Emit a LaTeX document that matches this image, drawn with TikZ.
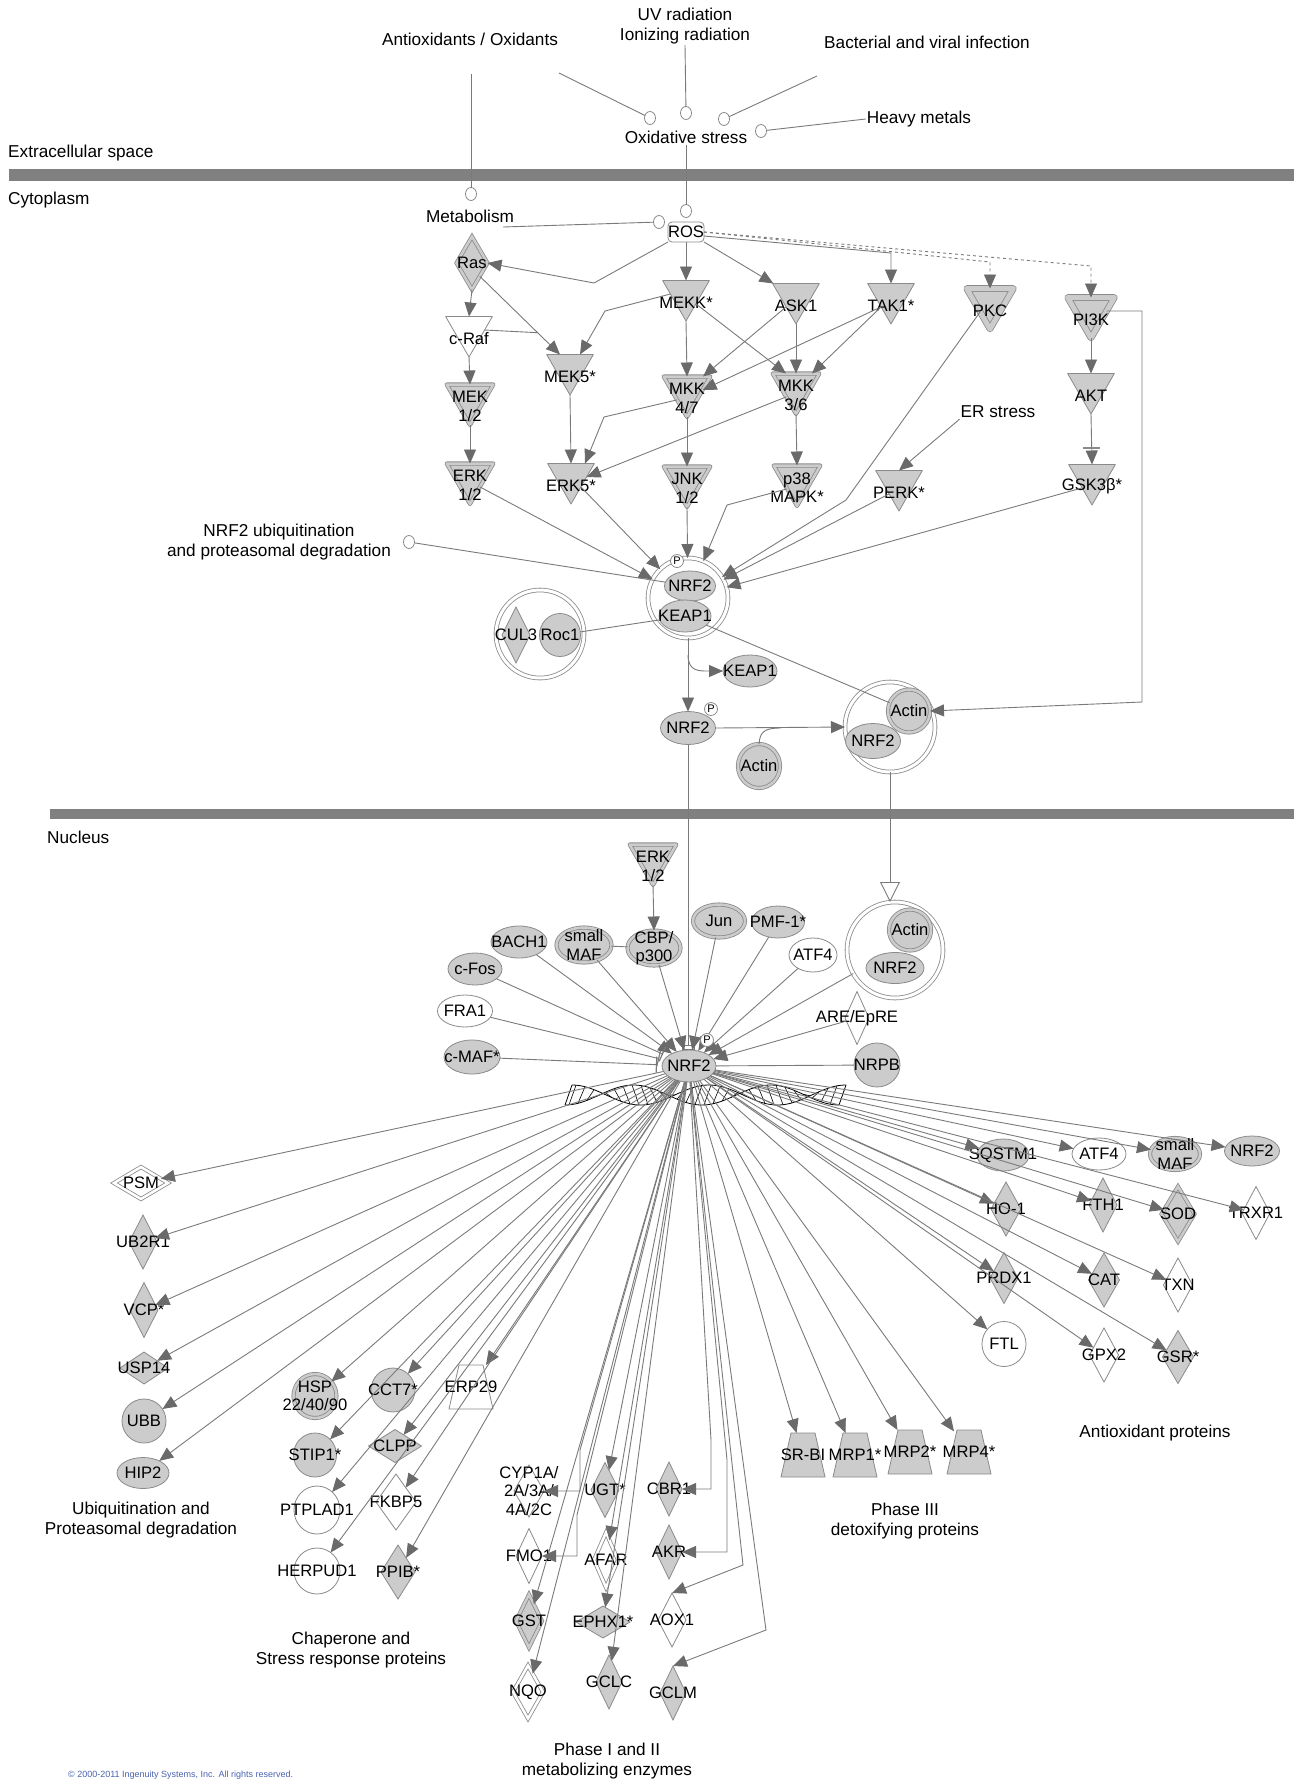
\documentclass[tikz,border=0pt]{standalone}
\usepackage{fontspec}
\setmainfont{Liberation Sans}
\usetikzlibrary{shapes.geometric,arrows.meta}
\definecolor{gfill}{HTML}{CCCCCC}
\definecolor{nline}{HTML}{8A8A8A}
\definecolor{eline}{HTML}{7A7A7A}
\definecolor{atip}{HTML}{6A6A6A}
\definecolor{band}{HTML}{808080}
\definecolor{copyc}{HTML}{4A62B0}
\newcommand\ndfont{\fontsize{16.6}{18.5}\selectfont}
\newcommand\lbfont{\fontsize{17.2}{20}\selectfont}
% trapezium: name, x, y, fill, label
\newcommand\trapz[5]{%
  \draw[fill=#4,draw=nline,line width=0.8pt,shift={(#2,#3)}] (-22,22) -- (22,22) -- (12,-22) -- (-12,-22) -- cycle;
  \node[inner sep=0pt,outer sep=0pt,minimum width=30pt,minimum height=44pt,label={[lab]center:{#5}}] (#1) at (#2,#3) {};}
\begin{document}
\begin{tikzpicture}[x=1pt,y=-1pt,
 nb/.style={inner sep=0pt,outer sep=0pt,line width=0.8pt,draw=nline},
 gf/.style={fill=gfill}, wf/.style={fill=white},
 ell/.style 2 args={nb,ellipse,minimum width=#1pt,minimum height=#2pt},
 dia/.style 2 args={nb,diamond,minimum width=#1pt,minimum height=#2pt},
 tri/.style={nb,regular polygon,regular polygon sides=3,shape border rotate=180,minimum size=54pt,line join=round},
 dbl/.style={double=#1,double distance=2.5pt},
 dblw/.style={double=#1,double distance=5pt},
 cplx/.style={nb,circle,fill=white,double=white,double distance=3pt,minimum size=#1pt},
 lab/.style={font=\ndfont,align=center,inner sep=0pt,text=black},
 lbl/.style={label={[lab]center:{#1}}},
 tlbl/.style={label={[lab,yshift=-8.5pt]center:{#1}}},
 txt/.style={font=\lbfont,align=center,inner sep=1pt},
 circ/.style={nb,ellipse,fill=white,minimum width=11pt,minimum height=13pt},
 pcirc/.style={nb,circle,fill=white,minimum size=13pt,font=\fontsize{11}{11}\selectfont},
 ln/.style={draw=eline,line width=0.9pt},
 arr/.style={ln,-{Triangle[length=14pt,width=12pt,color=atip]}},
 inh/.style={ln,-{Bar[width=16pt,line width=1.2pt]},shorten >=5pt},
 trl/.style={ln,-{Rectangle[length=5pt,width=13pt,fill=white]}},
 oarr/.style={ln,-{Triangle[length=20pt,width=20pt,fill=white]}},
 dsh/.style={arr,dashed},
 helix/.style={draw=black,line width=0.8pt},
]
\useasboundingbox (0,0) rectangle (1294,1781);
% bands
\fill[band] (9,169) rectangle (1294,181);
\fill[band] (50,809) rectangle (1294,819);

% ---------- labels ----------
\node[txt] (antiox) at (470,39) {Antioxidants / Oxidants};
\node[txt] (uv) at (685,26) {UV radiation\\Ionizing radiation};
\node[txt] (bact) at (927,42) {Bacterial and viral infection};
\node[txt] (heavy) at (919,119) {Heavy metals};
\node[txt] (oxs) at (686,137) {Oxidative stress};
\node[txt,anchor=west] (extra) at (7,153) {Extracellular space};
\node[txt,anchor=west] (cyto) at (7,200) {Cytoplasm};
\node[txt] (metab) at (470,216) {Metabolism};
\node[txt] (ers) at (998,412) {ER stress};
\node[txt] (ubqlab) at (279,542) {NRF2 ubiquitination\\and proteasomal degradation};
\node[txt,anchor=west] (nucl) at (46,837) {Nucleus};
\node[txt] (lubq) at (141,1520) {Ubiquitination and\\Proteasomal degradation};
\node[txt] (lchap) at (351,1650) {Chaperone and\\Stress response proteins};
\node[txt] (lphase) at (607,1761) {Phase I and II\\metabolizing enzymes};
\node[txt] (lphase3) at (905,1521) {Phase III\\detoxifying proteins};
\node[txt] (lanti) at (1155,1433) {Antioxidant proteins};
\node[anchor=north west,inner sep=0pt,text=copyc,font=\fontsize{9}{10}\selectfont] (copy) at (68,1771) {© 2000-2011 Ingenuity Systems, Inc. All rights reserved.};

% small circles
\node[circ] (c1) at (650,118) {};
\node[circ] (c2) at (686,113) {};
\node[circ] (c3) at (724,119) {};
\node[circ] (c4) at (761,131) {};
\node[circ] (c5) at (471,194) {};
\node[circ] (c6) at (686,211) {};
\node[circ] (c7) at (659,222) {};
\node[circ] (c8) at (409,542) {};
\coordinate (s1) at (471,74);
\coordinate (s2) at (559,73);
\coordinate (s3) at (817,76);
\coordinate (s4) at (503,227);

% ---------- cytoplasm nodes ----------
\node[nb,rounded corners=4pt,fill=white,minimum width=36pt,minimum height=20pt,font=\ndfont] (ros) at (686,232) {ROS};
\node[dia={31}{53},gf,dbl=gfill,lbl=Ras] (ras) at (472,263) {};
\node[tri,gf,tlbl={MEKK*}] (mekk) at (686,294) {};
\node[tri,gf,tlbl={ASK1}] (ask1) at (796,297) {};
\node[tri,gf,tlbl={TAK1*}] (tak1) at (891,297) {};
\node[tri,gf,dblw=gfill,tlbl={PKC}] (pkc) at (990,302) {};
\node[tri,gf,dblw=gfill,tlbl={PI3K}] (pi3k) at (1091,311) {};
\node[tri,wf,tlbl={c-Raf}] (craf) at (469,330) {};
\node[tri,gf,tlbl={MEK5*}] (mek5) at (570,368) {};
\node[tri,gf,dbl=gfill,tlbl={MKK\\4/7}] (mkk47) at (687,390) {};
\node[tri,gf,dbl=gfill,tlbl={MKK\\3/6}] (mkk36) at (796,387) {};
\node[tri,gf,tlbl={AKT}] (akt) at (1091,387) {};
\node[tri,gf,dbl=gfill,tlbl={MEK\\1/2}] (mek12) at (470,398) {};
\node[tri,gf,dbl=gfill,tlbl={ERK\\1/2}] (erk12) at (470,477) {};
\node[tri,gf,tlbl={ERK5*}] (erk5) at (571,477) {};
\node[tri,gf,dbl=gfill,tlbl={JNK\\1/2}] (jnk) at (687,480) {};
\node[tri,gf,dbl=gfill,tlbl={p38\\MAPK*}] (p38) at (797,479) {};
\node[tri,gf,tlbl={PERK*}] (perk) at (899,484) {};
\node[tri,gf,tlbl={GSK3β*}] (gsk) at (1092,478) {};

\node[cplx=80] (cplx1) at (688,598) {};
\node[ell={51}{30},gf,lbl=NRF2] (nrf2a) at (690,586) {};
\node[ell={52}{32},gf,lbl=KEAP1] (keap1a) at (685,616) {};
\node[cplx=88] (cplcul) at (540,634) {};
\node[dia={28}{56},gf,lbl=CUL3] (cul3) at (516,635) {};
\node[ell={41}{43},gf,lbl=Roc1] (roc1) at (560,635) {};
\node[ell={54}{32},gf,lbl=KEAP1] (keap2) at (750,671) {};
\node[ell={55}{33},gf,lbl=NRF2] (nrf2b) at (688,728) {};
\node[ell={42}{44},gf,dbl=gfill,lbl=Actin] (actin2) at (759,766) {};
\node[cplx=90] (cplx2) at (890,727) {};
\node[ell={55}{35},gf,lbl=NRF2] (nrf2c2) at (873,741) {};
\node[ell={42}{43},gf,dbl=gfill,lbl=Actin] (actinC1) at (909,711) {};
\coordinate (j1) at (781,728);
\coordinate (j2) at (688,655);
\coordinate (j3) at (538,332.7);

% ---------- nucleus nodes ----------
\node[tri,gf,dbl=gfill,tlbl={ERK\\1/2}] (erkn) at (653,858) {};
\node[ell={53}{35},gf,dbl=gfill,lbl={CBP/\\p300}] (cbp) at (654,948) {};
\node[ell={55}{35},gf,dbl=gfill,lbl={small\\MAF}] (smafn) at (584,945) {};
\node[ell={56}{32},gf,lbl=BACH1] (bach1) at (519,942) {};
\node[ell={54}{32},gf,lbl=c-Fos] (cfos) at (475,969) {};
\node[ell={55}{32},wf,lbl=FRA1] (fra1) at (465,1011) {};
\node[ell={56}{34},gf,lbl=c-MAF*] (cmaf) at (472,1057) {};
\node[ell={52}{33},gf,dbl=gfill,lbl=Jun] (jun) at (719,921) {};
\node[ell={53}{32},gf,lbl=PMF-1*] (pmf) at (778,922) {};
\node[ell={48}{34},wf,lbl=ATF4] (atf4n) at (813,955) {};
\node[cplx=96] (cplx3) at (895,950) {};
\node[ell={58}{31},gf,lbl=NRF2] (nrf2c3) at (895,968) {};
\node[ell={42}{41},gf,dbl=gfill,lbl=Actin] (actin3) at (910,930) {};
\node[dia={24}{53},wf,lbl={ARE/EpRE}] (are) at (857,1018) {};
\node[ell={46}{44},gf,lbl=NRPB] (nrpb) at (877,1065) {};
\node[ell={54}{32},gf,lbl=NRF2] (hub) at (689,1066) {};

% ---------- targets ----------
\node[dia={54}{32},wf,dbl=white,lbl=PSM] (psm) at (141,1183) {};
\node[dia={28}{54},gf,lbl=UB2R1] (ub2r1) at (143,1242) {};
\node[dia={28}{55},gf,lbl=VCP*] (vcp) at (144,1310) {};
\node[dia={48}{32},gf,lbl=USP14] (usp14) at (144,1368) {};
\node[ell={44}{44},gf,lbl=UBB] (ubb) at (144,1421) {};
\node[ell={52}{31},gf,lbl=HIP2] (hip2) at (143,1473) {};

\node[ell={43}{44},gf,dbl=gfill,lbl={HSP\\22/40/90}] (hsp) at (315,1396) {};
\node[ell={44}{44},gf,lbl=CCT7*] (cct7) at (393,1390) {};
\trapz{erp29}{471}{1387}{white}{ERP29}
\node[ell={43}{44},gf,lbl=STIP1*] (stip1) at (315,1455) {};
\node[dia={53}{33},gf,lbl=CLPP] (clpp) at (395,1446) {};
\node[ell={46}{48},wf,lbl=PTPLAD1] (ptplad1) at (317,1510) {};
\node[dia={40}{56},wf,lbl=FKBP5] (fkbp5) at (396,1502) {};
\node[ell={46}{46},wf,lbl=HERPUD1] (herpud1) at (317,1571) {};
\node[dia={34}{54},gf,lbl=PPIB*] (ppib) at (398,1572) {};

\node[dia={30}{52},wf,lbl={CYP1A/\\2A/3A/\\4A/2C}] (cyp) at (529,1491) {};
\node[dia={26}{55},wf,lbl=FMO1] (fmo1) at (529,1556) {};
\node[dia={26}{53},gf,dbl=gfill,lbl=GST] (gst) at (529,1621) {};
\node[dia={30}{53},wf,dbl=white,lbl=NQO] (nqo) at (528,1692) {};
\node[dia={28}{55},gf,lbl=UGT*] (ugt) at (605,1490) {};
\node[dia={24}{55},wf,dbl=white,lbl=AFAR] (afar) at (606,1560) {};
\node[dia={54}{32},gf,lbl=EPHX1*] (ephx1) at (603,1622) {};
\node[dia={26}{54},gf,lbl=GCLC] (gclc) at (609,1682) {};
\node[dia={26}{54},gf,lbl=CBR1] (cbr1) at (669,1489) {};
\node[dia={26}{54},gf,lbl=AKR] (akr) at (669,1552) {};
\node[dia={28}{54},wf,lbl=AOX1] (aox1) at (672,1620) {};
\node[dia={26}{54},gf,lbl=GCLM] (gclm) at (673,1693) {};

\trapz{srbi}{803}{1455}{gfill}{SR-BI}
\trapz{mrp1}{855}{1455}{gfill}{MRP1*}
\trapz{mrp2}{910}{1452}{gfill}{MRP2*}
\trapz{mrp4}{969}{1452}{gfill}{MRP4*}

\node[ell={52}{32},gf,lbl=SQSTM1] (sqstm1) at (1003,1155) {};
\node[ell={54}{32},wf,lbl=ATF4] (atf4r) at (1099,1154) {};
\node[ell={50}{32},gf,dbl=gfill,lbl={small\\MAF}] (smafr) at (1175,1154) {};
\node[ell={55}{30},gf,lbl=NRF2] (nrf2r) at (1252,1151) {};
\node[dia={30}{54},gf,lbl=HO-1] (ho1) at (1006,1209) {};
\node[dia={28}{54},gf,lbl=FTH1] (fth1) at (1103,1205) {};
\node[dia={33}{55},gf,dbl=gfill,lbl=SOD] (sod) at (1178,1214) {};
\node[dia={28}{53},wf,lbl=TRXR1] (trxr1) at (1256,1213) {};
\node[dia={28}{51},gf,lbl=PRDX1] (prdx1) at (1004,1278) {};
\node[dia={31}{54},gf,lbl=CAT] (cat) at (1104,1280) {};
\node[dia={29}{54},wf,lbl=TXN] (txn) at (1178,1285) {};
\node[ell={44}{45},wf,lbl=FTL] (ftl) at (1004,1344) {};
\node[dia={29}{54},wf,lbl=GPX2] (gpx2) at (1104,1355) {};
\node[dia={31}{53},gf,lbl=GSR*] (gsr) at (1178,1357) {};

% ---------- helix ----------
\draw[helix] plot[domain=565:839,samples=120,smooth] (\x,{1095+10*cos(2.6277*(\x-565))});
\draw[helix] plot[domain=572:846,samples=120,smooth] (\x,{1095-10*cos(2.6277*(\x-572))});
\foreach \xx in {569,578,...,835} \draw[helix,line width=0.6pt] (\xx,{1095+10*cos(2.6277*(\xx-565))}) -- ({\xx+7},{1095-10*cos(2.6277*(\xx-565))});
\draw[helix] (565,1105) -- (572,1085);
\draw[helix] (839,1105) -- (846,1085);

% ---------- top edges ----------
\draw[ln] (s1) -- (c5);
\draw[ln] (s2) -- (c1);
\draw[ln] (uv.south) -- (c2);
\draw[ln] (s3) -- (c3);
\draw[ln] (heavy.west) -- (c4);
\draw[ln] (oxs.south) -- (c6);
\draw[ln] (s4) -- (c7);

\draw[arr] (ros.south west) -- (594,283) -- (ras.east);
\draw[arr] (ros.south) -- (mekk.north);
\draw[arr] (ros.south east) -- (ask1);
\draw[arr] ([yshift=-4pt]ros.east) -- (891,253) -- (tak1.north);
\draw[dsh] (ros.east) -- (990,262) -- (pkc.north);
\draw[dsh] (ros.east) -- (1091,266) -- (pi3k.north);
\draw[arr] (ras.south) -- (craf.north);
\draw[arr] (ras.south east) -- ([xshift=-10pt]mek5.north);
\draw[ln] (craf.east) -- (j3);
\draw[arr] (mekk.west) -- (605,311) -- ([xshift=10pt]mek5.north);
\draw[arr] (mekk.south) -- (mkk47.north);
\draw[arr] (mekk.south east) -- ([xshift=-10pt]mkk36.north);
\draw[arr] (ask1.south west) -- ([xshift=16pt]mkk47.north);
\draw[arr] (ask1.south) -- (mkk36.north);
\draw[arr] (tak1.south west) -- (mkk47.east);
\draw[arr] (tak1.south west) -- ([xshift=16pt]mkk36.north);
\draw[arr] (craf.south) -- (mek12.north);
\draw[arr] (mek12.south) -- (erk12.north);
\draw[arr] (mek5.south) -- (erk5.north);
\draw[arr] (mkk47.south) -- (jnk.north);
\draw[arr] (mkk36.south) -- (p38.north);
\draw[arr] (mkk47.south west) -- (604,417) -- ([xshift=14pt]erk5.north);
\draw[arr] (mkk36.south west) -- (erk5.east);
\draw[arr] (pi3k.south) -- (akt.north);
\draw[arr] (akt.south) -- node[pos=0.67,nb,fill=nline,minimum width=16pt,minimum height=1.5pt] (akbar) {} (gsk.north);
\draw[arr] (ers.south west) -- (perk.north);

\draw[arr] (erk12.south east) -- (cplx1);
\draw[arr] (erk5.south east) -- (cplx1);
\draw[arr] (jnk.south) -- (cplx1);
\draw[arr] (p38.south west) -- (727,505) -- (cplx1);
\draw[arr] (pkc.south west) -- (846,500) -- (cplx1);
\draw[arr] (perk.south west) -- (cplx1);
\draw[arr] (gsk.south west) -- (cplx1);
\draw[ln] (c8) -- (nrf2a);
\draw[ln] (roc1) -- (keap1a);
\draw[ln] (keap1a) -- (actinC1);
\draw[arr] (cplx1.south) -- (nrf2b.north);
\draw[arr] (j2) .. controls (688,672) and (700,671) .. (keap2.west);
\draw[arr] (nrf2b.east) -- (cplx2.west);
\draw[ln] (actin2.north) .. controls (760,732) and (764,728) .. (j1);
\draw[arr] (pi3k.east) -| (1142,702) -- (actinC1.east);
\draw[oarr] (cplx2.south) -- (cplx2.south |- cplx3.north);
\draw[trl] (nrf2b.south) -- (nrf2b.south |- hub.north);

% ---------- nucleus edges ----------
\draw[arr] (erkn.south) -- (cbp.north);
\draw[ln] (smafn) -- (cbp);
\draw[arr] (bach1) -- (hub);
\draw[arr] (smafn) -- (hub);
\draw[arr] (cbp) -- (hub);
\draw[arr] (jun) -- (hub);
\draw[arr] (pmf) -- (hub);
\draw[arr] (atf4n) -- (hub);
\draw[arr] (cplx3) -- (hub);
\draw[arr] (are) -- (hub);
\draw[inh] (cfos) -- (hub);
\draw[inh] (fra1) -- (hub);
\draw[inh] (cmaf) -- (hub);
\draw[ln] (hub) -- (nrpb);

% fan
\foreach \t in {psm,ub2r1,vcp,usp14,ubb,hip2,hsp,cct7,erp29,stip1,clpp,ptplad1,fkbp5,herpud1,ppib,gst,nqo,ugt,afar,ephx1,gclc,srbi,mrp1,mrp2,mrp4,sqstm1,atf4r,smafr,nrf2r,ho1,fth1,sod,trxr1,prdx1,cat,txn,ftl,gpx2,gsr}
  \draw[arr] (hub) -- (\t);
\draw[arr] (hub) -- (580,1450) -- (580,1491) -- (cyp.east);
\draw[arr] (hub) -- (577,1515) -- (577,1556) -- (fmo1.east);
\draw[arr] (hub) -- (711,1440) -- (711,1489) -- (cbr1.east);
\draw[arr] (hub) -- (727,1460) -- (727,1552) -- (akr.east);
\draw[arr] (hub) -- (743,1565) -- (aox1.north);
\draw[arr] (hub) -- (766,1630) -- (gclm.north);

% P markers
\node[pcirc] (p1) at (677,561) {P};
\node[pcirc] (p2) at (711,709) {P};
\node[pcirc] (p3) at (707,1040) {P};
\end{tikzpicture}
\end{document}
